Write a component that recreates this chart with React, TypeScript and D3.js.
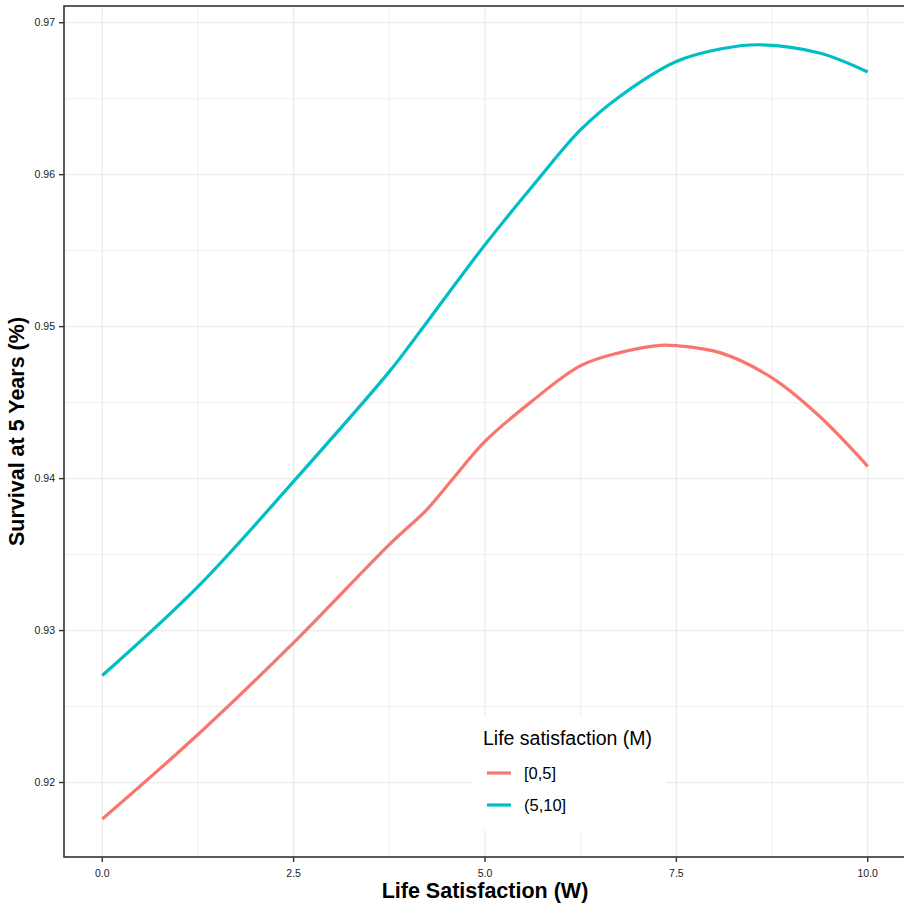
import React from "react";
import * as d3 from "d3";

// Life satisfaction (W) on x, survival at 5 years on y, one curve per M group
const redX = [0, 1.25, 2.5, 3.75, 4.24, 4.57, 5, 5.59, 6.25, 6.76, 7.29, 7.5, 8.07, 8.75, 9.37, 10];
const redY = [0.9176, 0.92316, 0.92921, 0.93566, 0.93796, 0.93993, 0.94245, 0.945, 0.94743, 0.94829, 0.94877, 0.94875, 0.94829, 0.94663, 0.9441, 0.94081];

const tealX = [0, 1.25, 2.5, 3.75, 4.1, 5, 5.69, 6.25, 6.76, 7.5, 8.07, 8.59, 9.37, 10];
const tealY = [0.92704, 0.93289, 0.93982, 0.94704, 0.94934, 0.95539, 0.95967, 0.96296, 0.96515, 0.96745, 0.96827, 0.96855, 0.96801, 0.96676];

const groups = ["[0,5]", "(5,10]"];
const groupColors = ["#F8766D", "#00BFC4"];

const xTicks = [0, 2.5, 5, 7.5, 10];
const xMinor = [1.25, 3.75, 6.25, 8.75];
const yTicks = [0.92, 0.93, 0.94, 0.95, 0.96, 0.97];
const yMinor = [0.925, 0.935, 0.945, 0.955, 0.965];

const W = 904;
const H = 907;
const FONT = "'Liberation Sans', Arial, Helvetica, sans-serif";

export default function App() {
  const left = 64, right = 906, top = 6, bottom = 857;

  const x = d3.scaleLinear().domain([-0.5, 10.5]).range([left, right]);
  const y = d3.scaleLinear().domain([0.9151, 0.9711]).range([bottom, top]);

  const line = d3
    .line<[number, number]>()
    .x((d) => x(d[0]))
    .y((d) => y(d[1]))
    .curve(d3.curveCatmullRom.alpha(0.5));

  const series = [
    redX.map((v, i) => [v, redY[i]] as [number, number]),
    tealX.map((v, i) => [v, tealY[i]] as [number, number]),
  ];

  const grid = "#ebebeb";
  const axisCol = "#333333";

  return (
    <svg
      width={W}
      height={H}
      style={{ position: "absolute", left: 0, top: 0, background: "#fff" }}
      fontFamily={FONT}
    >
      {/* grid */}
      {yMinor.map((t) => (
        <line key={"ym" + t} x1={left} x2={right} y1={y(t)} y2={y(t)} stroke={grid} strokeWidth={0.8} />
      ))}
      {xMinor.map((t) => (
        <line key={"xm" + t} x1={x(t)} x2={x(t)} y1={top} y2={bottom} stroke={grid} strokeWidth={0.8} />
      ))}
      {yTicks.map((t) => (
        <line key={"yg" + t} x1={left} x2={right} y1={y(t)} y2={y(t)} stroke={grid} strokeWidth={1.2} />
      ))}
      {xTicks.map((t) => (
        <line key={"xg" + t} x1={x(t)} x2={x(t)} y1={top} y2={bottom} stroke={grid} strokeWidth={1.2} />
      ))}

      {/* curves */}
      {series.map((s, i) => (
        <path key={i} d={line(s) || ""} fill="none" stroke={groupColors[i]} strokeWidth={3.2} />
      ))}

      {/* panel border */}
      <rect x={left} y={top} width={right - left} height={bottom - top} fill="none" stroke={axisCol} strokeWidth={1.6} />

      {/* y axis */}
      {yTicks.map((t) => (
        <g key={"yt" + t}>
          <line x1={left - 5} x2={left} y1={y(t)} y2={y(t)} stroke={axisCol} strokeWidth={1.4} />
          <text x={left - 9} y={y(t)} dy="0.35em" textAnchor="end" fontSize={10.5} fill="#1a1a1a">
            {t.toFixed(2)}
          </text>
        </g>
      ))}

      {/* x axis */}
      {xTicks.map((t) => (
        <g key={"xt" + t}>
          <line x1={x(t)} x2={x(t)} y1={bottom} y2={bottom + 5} stroke={axisCol} strokeWidth={1.4} />
          <text x={x(t)} y={877} textAnchor="middle" fontSize={10.5} fill="#1a1a1a">
            {t.toFixed(1)}
          </text>
        </g>
      ))}

      {/* axis titles */}
      <text x={(left + right) / 2} y={898} textAnchor="middle" fontSize={21.5} fontWeight="bold" fill="#000">
        Life Satisfaction (W)
      </text>
      <text
        transform={`translate(24, ${(top + bottom) / 2}) rotate(-90)`}
        textAnchor="middle"
        fontSize={21.5}
        fontWeight="bold"
        fill="#000"
      >
        Survival at 5 Years (%)
      </text>

      {/* legend */}
      <g>
        <rect x={473} y={717} width={193} height={113} fill="#fff" />
        <text x={483} y={745} fontSize={19.5} fill="#000">
          Life satisfaction (M)
        </text>
        {groups.map((g, i) => (
          <g key={g}>
            <line x1={487} x2={511} y1={773 + i * 32} y2={773 + i * 32} stroke={groupColors[i]} strokeWidth={3.2} />
            <text x={524} y={773 + i * 32} dy="0.36em" fontSize={16.5} fill="#000">
              {g}
            </text>
          </g>
        ))}
      </g>
    </svg>
  );
}
